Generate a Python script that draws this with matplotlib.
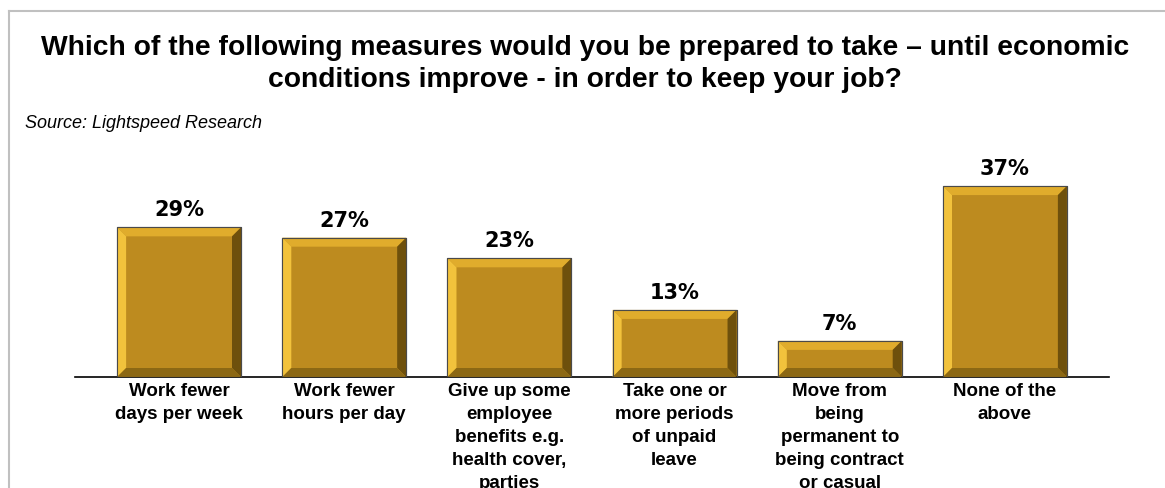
import matplotlib
matplotlib.use("Agg")
import matplotlib.pyplot as plt
from matplotlib.patches import Polygon, Rectangle
import matplotlib.transforms as mtransforms

categories = [
    "Work fewer\ndays per week",
    "Work fewer\nhours per day",
    "Give up some\nemployee\nbenefits e.g.\nhealth cover,\nparties",
    "Take one or\nmore periods\nof unpaid\nleave",
    "Move from\nbeing\npermanent to\nbeing contract\nor casual",
    "None of the\nabove",
]
values = [29, 27, 23, 13, 7, 37]
value_labels = ["29%", "27%", "23%", "13%", "7%", "37%"]

title = ("Which of the following measures would you be prepared to take \u2013 until economic\n"
         "conditions improve - in order to keep your job?")
source = "Source: Lightspeed Research"

plt.rcParams['font.family'] = ['Liberation Sans', 'DejaVu Sans']

W, H = 1165, 488
fig = plt.figure(figsize=(W / 100, H / 100), dpi=100)
fig.patch.set_facecolor("white")

# outer border (top and left visible)
fig.add_artist(plt.Line2D([9 / W, 1.0], [1 - 11 / H, 1 - 11 / H], transform=fig.transFigure,
                          color="#c0c0c0", lw=1.5))
fig.add_artist(plt.Line2D([9 / W, 9 / W], [0, 1 - 11 / H], transform=fig.transFigure,
                          color="#c0c0c0", lw=1.5))

ax_left, ax_right = 75 / W, 1109 / W
ax_bottom = (H - 377) / H
ax_top = (H - 170.6) / H
ax = fig.add_axes([ax_left, ax_bottom, ax_right - ax_left, ax_top - ax_bottom])
ax.set_xlim(-0.63, len(values) - 1 + 0.63)
ax.set_ylim(0, 40)
for s in ["top", "right", "left"]:
    ax.spines[s].set_visible(False)
ax.spines["bottom"].set_color("black")
ax.spines["bottom"].set_linewidth(1.2)
ax.set_yticks([])
ax.set_xticks([])
ax.patch.set_alpha(0)

face = "#BD8B1F"
width = 0.75
xs = list(range(len(values)))
bars = ax.bar(xs, values, width=width, color=face, edgecolor="#4a4a4a", linewidth=0.8, zorder=2)

# bevel sizes in pixels -> data
inv = ax.transData.inverted()
p0 = inv.transform((0, 0))
p1 = inv.transform((9, 9))
bx = p1[0] - p0[0]
by = p1[1] - p0[1]

for x, v in zip(xs, values):
    l, r = x - width / 2, x + width / 2
    b, t = 0, v
    bx_ = bx
    by_ = min(by, v / 4)
    # top (light)
    ax.add_patch(Polygon([(l, t), (r, t), (r - bx_, t - by_), (l + bx_, t - by_)],
                         closed=True, facecolor="#E0AC2C", edgecolor="none", zorder=3))
    # left (brightest)
    ax.add_patch(Polygon([(l, t), (l + bx_, t - by_), (l + bx_, b + by_), (l, b)],
                         closed=True, facecolor="#F2C23C", edgecolor="none", zorder=3))
    # right (dark)
    ax.add_patch(Polygon([(r, t), (r - bx_, t - by_), (r - bx_, b + by_), (r, b)],
                         closed=True, facecolor="#6E500C", edgecolor="none", zorder=3))
    # bottom (darkish)
    ax.add_patch(Polygon([(l, b), (l + bx_, b + by_), (r - bx_, b + by_), (r, b)],
                         closed=True, facecolor="#8C6814", edgecolor="none", zorder=3))
    ax.add_patch(Rectangle((l, b), width, v, facecolor="none", edgecolor="#4a4a4a",
                           linewidth=0.8, zorder=4))

for x, v, lab in zip(xs, values, value_labels):
    ax.annotate(lab, (x, v), xytext=(0, 5), textcoords="offset points",
                ha="center", va="bottom", fontsize=15, fontweight="bold", color="black",
                family="DejaVu Sans")

trans = mtransforms.blended_transform_factory(ax.transData, ax.transAxes)
for x, cat in zip(xs, categories):
    ax.text(x, -0.03, cat, transform=trans, ha="center", va="top", fontsize=13.5,
            fontweight="bold", linespacing=1.45, clip_on=False)

fig.text(585 / W, 1 - 35 / H, title, ha="center", va="top", fontsize=20.3, fontweight="bold",
         linespacing=1.3)
fig.text(25 / W, 1 - 123 / H, source, ha="left", va="center", fontsize=13, style="italic")

fig.savefig("out.png", dpi=100)
